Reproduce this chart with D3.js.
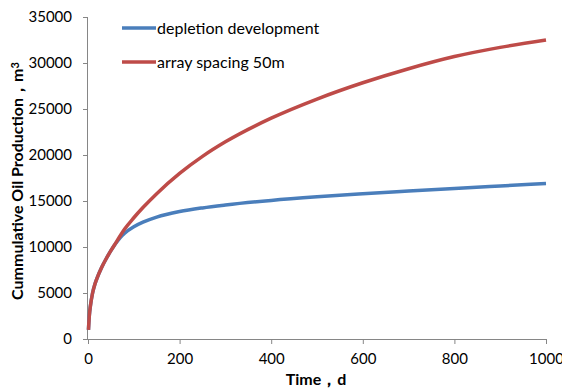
<!DOCTYPE html>
<html>
<head>
<meta charset="utf-8">
<script src="https://cdn.jsdelivr.net/npm/d3@7"></script>
<style>
    body { margin: 0; background: #fff; }
    svg { display: block; }
    .tick text { font-family: Lato, "Liberation Sans", sans-serif; font-size: 15px; fill: #000; }
    .axis path, .axis line { stroke: #868686; }
</style>
</head>
<body>
<div id="chart"></div>
<script>
// time in days
const days = [1, 3, 5, 10, 15, 20, 30, 40, 50, 60, 70, 80, 100, 120, 150, 200, 250, 300, 400, 500, 600, 700, 800, 900, 1000];
const depletion = [1000, 2600, 3500, 5000, 5950, 6650, 7800, 8750, 9600, 10350, 11000, 11500, 12200, 12700, 13250, 13850, 14250, 14560, 15060, 15450, 15780, 16080, 16370, 16640, 16900];
const spacing50 = [1000, 2600, 3500, 5000, 5950, 6650, 7800, 8750, 9600, 10400, 11200, 11950, 13180, 14290, 15800, 18000, 19850, 21430, 24000, 26080, 27850, 29380, 30700, 31700, 32500];

const seriesNames = ['depletion development', 'array spacing 50m'];
const seriesColors = ['#4A7EBB', '#BE4B48'];
const xTicks = [0, 200, 400, 600, 800, 1000];
const yTicks = [0, 5000, 10000, 15000, 20000, 25000, 30000, 35000];

const width = 562, height = 390;
const margin = { top: 17, right: 16, bottom: 51, left: 88 };

const svg = d3.select('#chart')
    .append('svg')
    .attr('width', width)
    .attr('height', height);

const x = d3.scaleLinear()
    .domain([0, 1000])
    .range([margin.left, width - margin.right]);

const y = d3.scaleLinear()
    .domain([0, 35000])
    .range([height - margin.bottom, margin.top]);

// X axis
svg.append('g')
    .attr('class', 'axis')
    .attr('transform', `translate(0,${height - margin.bottom})`)
    .call(d3.axisBottom(x).tickValues(xTicks).tickSize(5).tickPadding(9).tickFormat(d3.format('d')))
    .call(g => g.select('.domain').attr('d', `M${x(0)},0.5H${x(1000)}`));

// Y axis
svg.append('g')
    .attr('class', 'axis')
    .attr('transform', `translate(${margin.left},0)`)
    .call(d3.axisLeft(y).tickValues(yTicks).tickSize(5).tickPadding(11).tickFormat(d3.format('d')))
    .call(g => g.select('.domain').attr('d', `M-0.5,${y(0)}V${y(35000)}`));

const line = d3.line()
    .x(d => x(d[0]))
    .y(d => y(d[1]))
    .curve(d3.curveMonotoneX);

[depletion, spacing50].forEach((vals, i) => {
    svg.append('path')
        .datum(days.map((t, j) => [t, vals[j]]))
        .attr('fill', 'none')
        .attr('stroke', seriesColors[i])
        .attr('stroke-width', 3.5)
        .attr('d', line);
});

// Legend
const legend = svg.append('g');
seriesNames.forEach((name, i) => {
    const ly = 28 + i * 34;
    legend.append('line')
        .attr('x1', 122).attr('x2', 156)
        .attr('y1', ly).attr('y2', ly)
        .attr('stroke', seriesColors[i])
        .attr('stroke-width', 3.5);
    legend.append('text')
        .attr('x', 157)
        .attr('y', ly)
        .attr('dy', '0.35em')
        .style('font-family', 'Lato, "Liberation Sans", sans-serif')
        .style('font-size', '16px')
        .text(name);
});

// Axis titles
svg.append('text')
    .attr('x', 316)
    .attr('y', 385)
    .attr('text-anchor', 'middle')
    .style('font-family', 'Lato, "Liberation Sans", sans-serif')
    .style('font-size', '16px')
    .style('font-weight', 'bold')
    .text('Time，d');

const yTitle = svg.append('text')
    .attr('transform', 'translate(23,181) rotate(-90)')
    .attr('text-anchor', 'middle')
    .style('font-family', 'Lato, "Liberation Sans", sans-serif')
    .style('font-size', '16px')
    .style('font-weight', 'bold');
yTitle.append('tspan').text('Cummulative Oil Production，m');
yTitle.append('tspan').attr('dy', '-0.4em').style('font-size', '11px').text('3');
</script>
</body>
</html>
